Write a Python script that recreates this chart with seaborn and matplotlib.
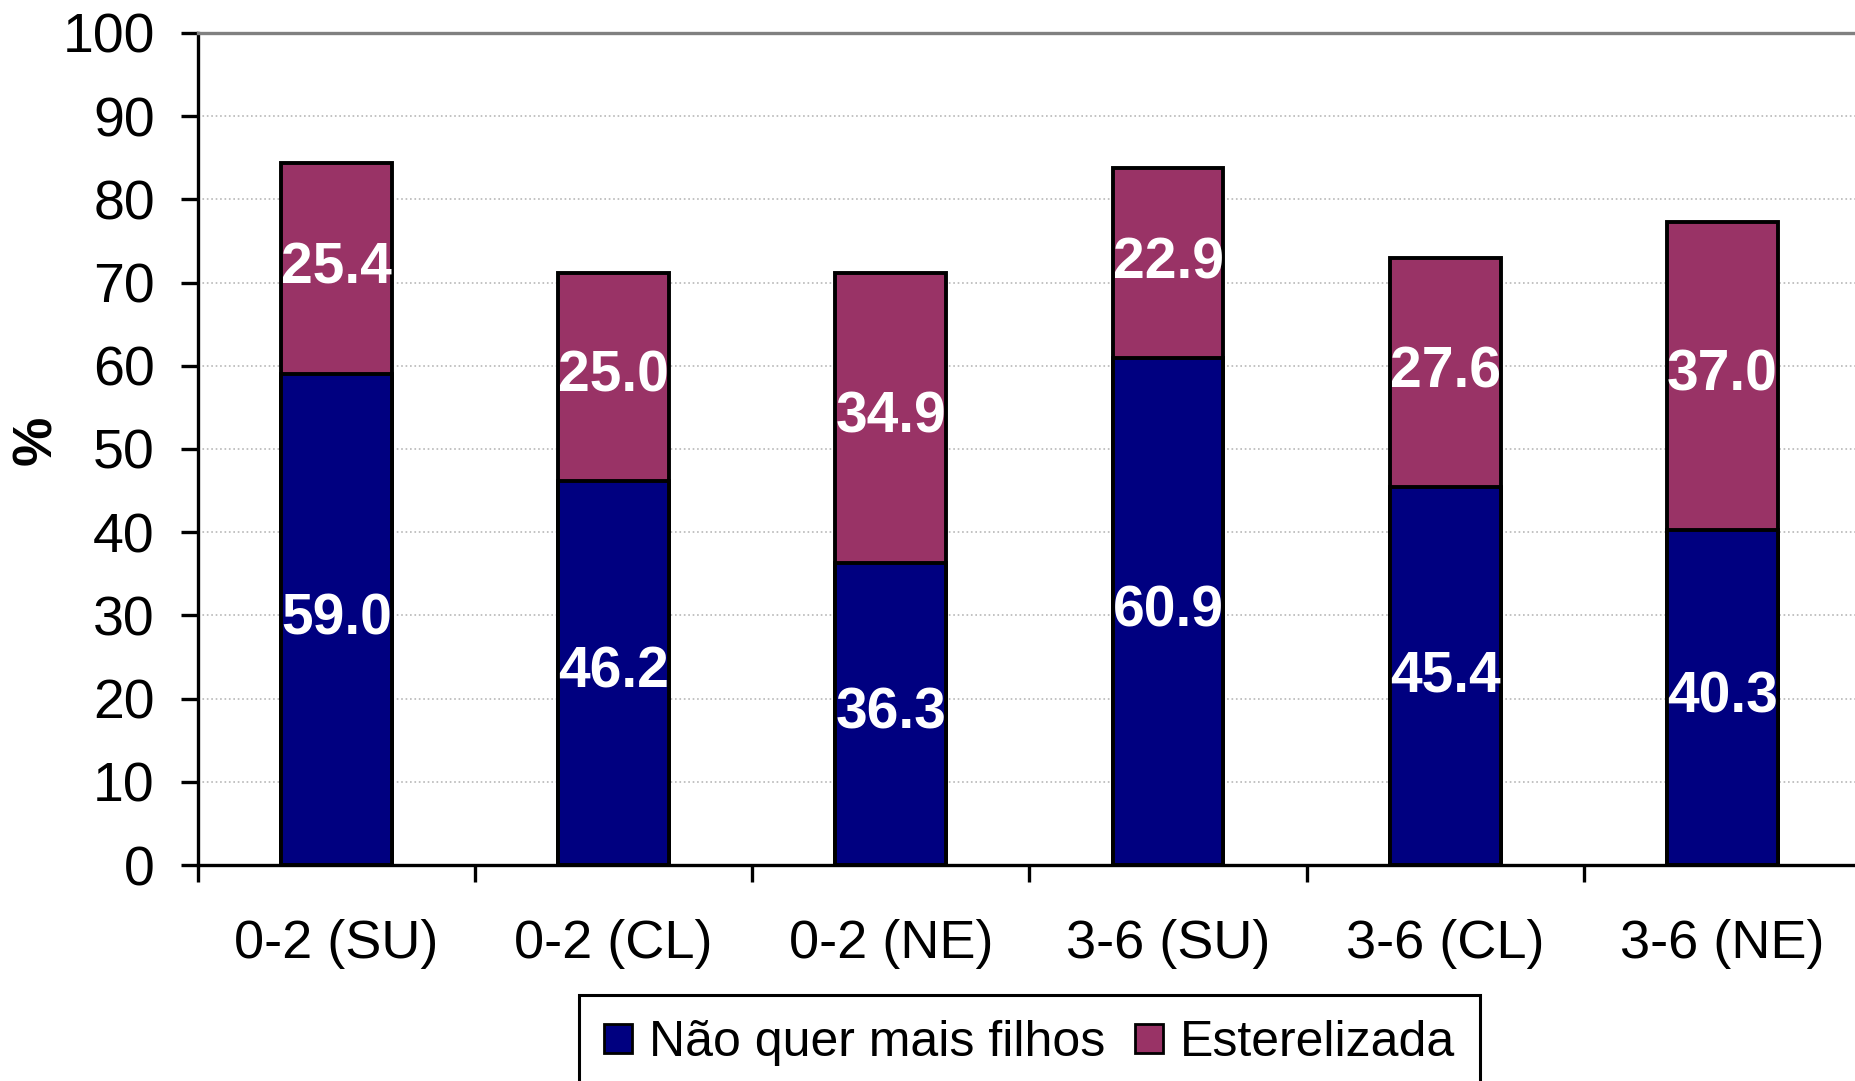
import matplotlib.pyplot as plt
import matplotlib.patches as mpatches
import seaborn as sns
import pandas as pd
import numpy as np

# ── Data ──────────────────────────────────────────────────
categorias = ['0-2 (SU)', '0-2 (CL)', '0-2 (NE)', '3-6 (SU)', '3-6 (CL)', '3-6 (NE)']
nao_quer = [59.0, 46.2, 36.3, 60.9, 45.4, 40.3]
esterelizada = [25.4, 25.0, 34.9, 22.9, 27.6, 37.0]
yticks = list(range(0, 101, 10))
serie_nomes = ['Não quer mais filhos', 'Esterelizada']

NAVY = '#000080'
MAGENTA = '#993366'

sns.set_style('white')
plt.rcParams['font.family'] = ['Liberation Sans', 'DejaVu Sans']
plt.rcParams['text.color'] = 'black'
plt.rcParams['xtick.color'] = 'black'
plt.rcParams['ytick.color'] = 'black'
plt.rcParams['axes.labelcolor'] = 'black'

df = pd.DataFrame({'cat': categorias, 'nao': nao_quer, 'est': esterelizada})
df['total'] = df['nao'] + df['est']

fig = plt.figure(figsize=(18.55, 10.81), dpi=100)
ax = fig.add_axes([0.1067, 0.1998, 0.8965, 0.7697])

# stacked bars: total first (magenta), then the lower part on top (navy)
sns.barplot(data=df, x='cat', y='total', color=MAGENTA, saturation=1, width=0.4,
            edgecolor='black', linewidth=2.8, errorbar=None, ax=ax)
sns.barplot(data=df, x='cat', y='nao', color=NAVY, saturation=1, width=0.4,
            edgecolor='black', linewidth=2.8, errorbar=None, ax=ax)

ax.bar_label(ax.containers[1], labels=[f'{v:.1f}' for v in nao_quer],
             label_type='center', color='white', fontsize=41, fontweight='bold')
for i, (n, e) in enumerate(zip(nao_quer, esterelizada)):
    ax.text(i, n + e / 2, f'{e:.1f}', ha='center', va='center',
            color='white', fontsize=41, fontweight='bold')

# axes styling
ax.set_xlim(-0.5, 5.5)
ax.set_ylim(0, 100)
ax.set_yticks(yticks)
ax.set_axisbelow(True)
ax.yaxis.grid(True, color='#b8b8b8', linestyle=':', linewidth=1.2)

for side in ['left', 'bottom']:
    ax.spines[side].set_color('black')
    ax.spines[side].set_linewidth(2.4)
ax.spines['top'].set_color('#808080')
ax.spines['top'].set_linewidth(2.4)
ax.spines['right'].set_visible(False)

ax.set_xticks(range(len(categorias)))
ax.set_xticklabels(categorias)
ax.set_xticks(np.arange(-0.5, len(categorias), 1), minor=True)
ax.tick_params(axis='x', which='major', length=0, pad=39, labelsize=39)
ax.tick_params(axis='x', which='minor', bottom=True, length=12, width=2.4, direction='out')
ax.tick_params(axis='y', left=True, length=12, width=2.4, direction='out', pad=19, labelsize=40)

ax.set_xlabel('')
ax.set_ylabel('%', fontsize=40, fontweight='bold')
ax.yaxis.set_label_coords(-0.081, 0.51)

handles = [mpatches.Patch(facecolor=NAVY, edgecolor='black', linewidth=2),
           mpatches.Patch(facecolor=MAGENTA, edgecolor='black', linewidth=2)]
leg = fig.legend(handles, serie_nomes, loc='center', bbox_to_anchor=(0.555, 0.035),
                 ncol=2, fontsize=36, frameon=True, fancybox=False, edgecolor='black',
                 handlelength=0.56, handleheight=0.54, handletextpad=0.34,
                 columnspacing=0.6, borderpad=0.5, borderaxespad=0)
leg.get_frame().set_linewidth(2.2)
leg.get_frame().set_alpha(1)

fig.savefig('out.png', dpi=100)
